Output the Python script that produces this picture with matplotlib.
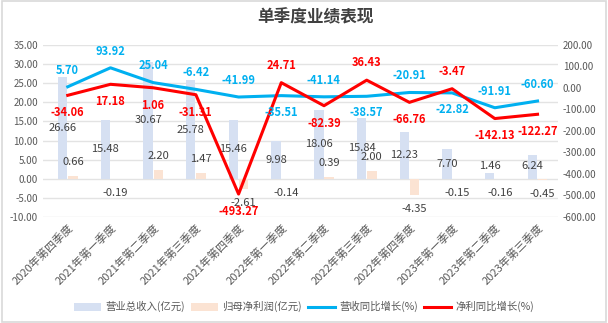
import numpy as np
import matplotlib.pyplot as plt
from matplotlib.patches import Rectangle

plt.rcParams['font.family'] = ['Noto Sans CJK SC', 'DejaVu Sans']
plt.rcParams['axes.unicode_minus'] = False

quarters = ['2020年第四季度', '2021年第一季度', '2021年第二季度', '2021年第三季度',
            '2021年第四季度', '2022年第一季度', '2022年第二季度', '2022年第三季度',
            '2022年第四季度', '2023年第一季度', '2023年第二季度', '2023年第三季度']
revenue = [26.66, 15.48, 30.67, 25.78, 15.46, 9.98, 18.06, 15.84, 12.23, 7.70, 1.46, 6.24]
profit = [0.66, -0.19, 2.20, 1.47, -2.61, -0.14, 0.39, 2.00, -4.35, -0.15, -0.16, -0.45]
rev_yoy = [5.70, 93.92, 25.04, -6.42, -41.99, -35.51, -41.14, -38.57, -20.91, -22.82, -91.91, -60.60]
profit_yoy = [-34.06, 17.18, 1.06, -31.31, -493.27, 24.71, -82.39, 36.43, -66.76, -3.47, -142.13, -122.27]

# which side of the line each growth label sits on (1 above, -1 below)
rev_side = [1, 1, 1, 1, 1, -1, 1, -1, 1, -1, 1, 1]
profit_side = [-1, -1, -1, -1, -1, 1, -1, 1, -1, 1, -1, -1]

C_REV = '#D6E0F2'
C_PROFIT = '#FBE3D3'
C_REV_LINE = '#00B0F0'
C_PROFIT_LINE = '#FF0000'
GRAY = '#595959'

fig = plt.figure(figsize=(6.08, 3.23), dpi=100)
fig.patches.append(Rectangle((0.003, 0.004), 0.994, 0.992, transform=fig.transFigure,
                             fill=False, edgecolor='#d9d9d9', linewidth=1.2))
ax = fig.add_axes([0.0707, 0.3282, 0.8471, 0.5325])
ax2 = ax.twinx()

x = np.arange(len(quarters))
w = 0.22
ax.bar(x - 0.12, revenue, w, color=C_REV, label='营业总收入(亿元)', zorder=2)
ax.bar(x + 0.12, profit, w, color=C_PROFIT, label='归母净利润(亿元)', zorder=2)

ax.set_ylim(-10, 35)
ax.set_yticks(np.arange(-10, 36, 5))
ax.set_yticklabels([f'{v:.2f}' for v in np.arange(-10, 36, 5)])
ax.set_xlim(-0.58, 11.48)
ax.set_xticks(x)
ax.set_xticklabels(quarters, rotation=45, ha='right', rotation_mode='anchor')
ax.grid(axis='y', color='#e3e3e3', linewidth=1, zorder=0)
ax.set_axisbelow(True)

for a in (ax, ax2):
    for s in a.spines.values():
        s.set_visible(False)
    a.tick_params(length=0, colors=GRAY, labelsize=7)
ax.tick_params(axis='x', labelsize=8, pad=4)

# revenue labels sit around mid-bar, profit labels just beyond the bar end
for i, v in enumerate(revenue):
    ax.text(x[i] - 0.12, max(v / 2, 3.3), f'{v:.2f}', ha='center', va='center',
            fontsize=8, color='#404040', zorder=5)
for i, v in enumerate(profit):
    ax.annotate(f'{v:.2f}', (x[i] + 0.12, v), xytext=(0, 10 if v >= 0 else -10),
                textcoords='offset points', ha='center', va='center',
                fontsize=8, color='#404040', zorder=5)

ax2.plot(x, rev_yoy, color=C_REV_LINE, linewidth=2.2, label='营收同比增长(%)', zorder=3)
ax2.plot(x, profit_yoy, color=C_PROFIT_LINE, linewidth=2.2, label='净利同比增长(%)', zorder=3)
ax2.set_ylim(-600, 200)
ax2.set_yticks(np.arange(-600, 201, 100))
ax2.set_yticklabels([f'{v:.2f}' for v in np.arange(-600, 201, 100)])

for i, v in enumerate(rev_yoy):
    ax2.annotate(f'{v:.2f}', (x[i], v), xytext=(0, 12 * rev_side[i]),
                 textcoords='offset points', ha='center', va='center',
                 fontsize=8, fontweight='bold', color=C_REV_LINE, zorder=6)
for i, v in enumerate(profit_yoy):
    ax2.annotate(f'{v:.2f}', (x[i], v), xytext=(0, 12.5 * profit_side[i]),
                 textcoords='offset points', ha='center', va='center',
                 fontsize=8, fontweight='bold', color=C_PROFIT_LINE, zorder=6)

fig.text(0.518, 0.945, '单季度业绩表现', ha='center', va='center',
         fontsize=12, fontweight='bold', color='#404040')

h1, l1 = ax.get_legend_handles_labels()
h2, l2 = ax2.get_legend_handles_labels()
fig.legend(h1 + h2, l1 + l2, loc='center', bbox_to_anchor=(0.5, 0.05), ncol=4,
           frameon=False, fontsize=7.5, labelcolor=GRAY, handlelength=2.6,
           handleheight=0.8, columnspacing=0.6, handletextpad=0.4)

fig.savefig('out.png', dpi=100)
